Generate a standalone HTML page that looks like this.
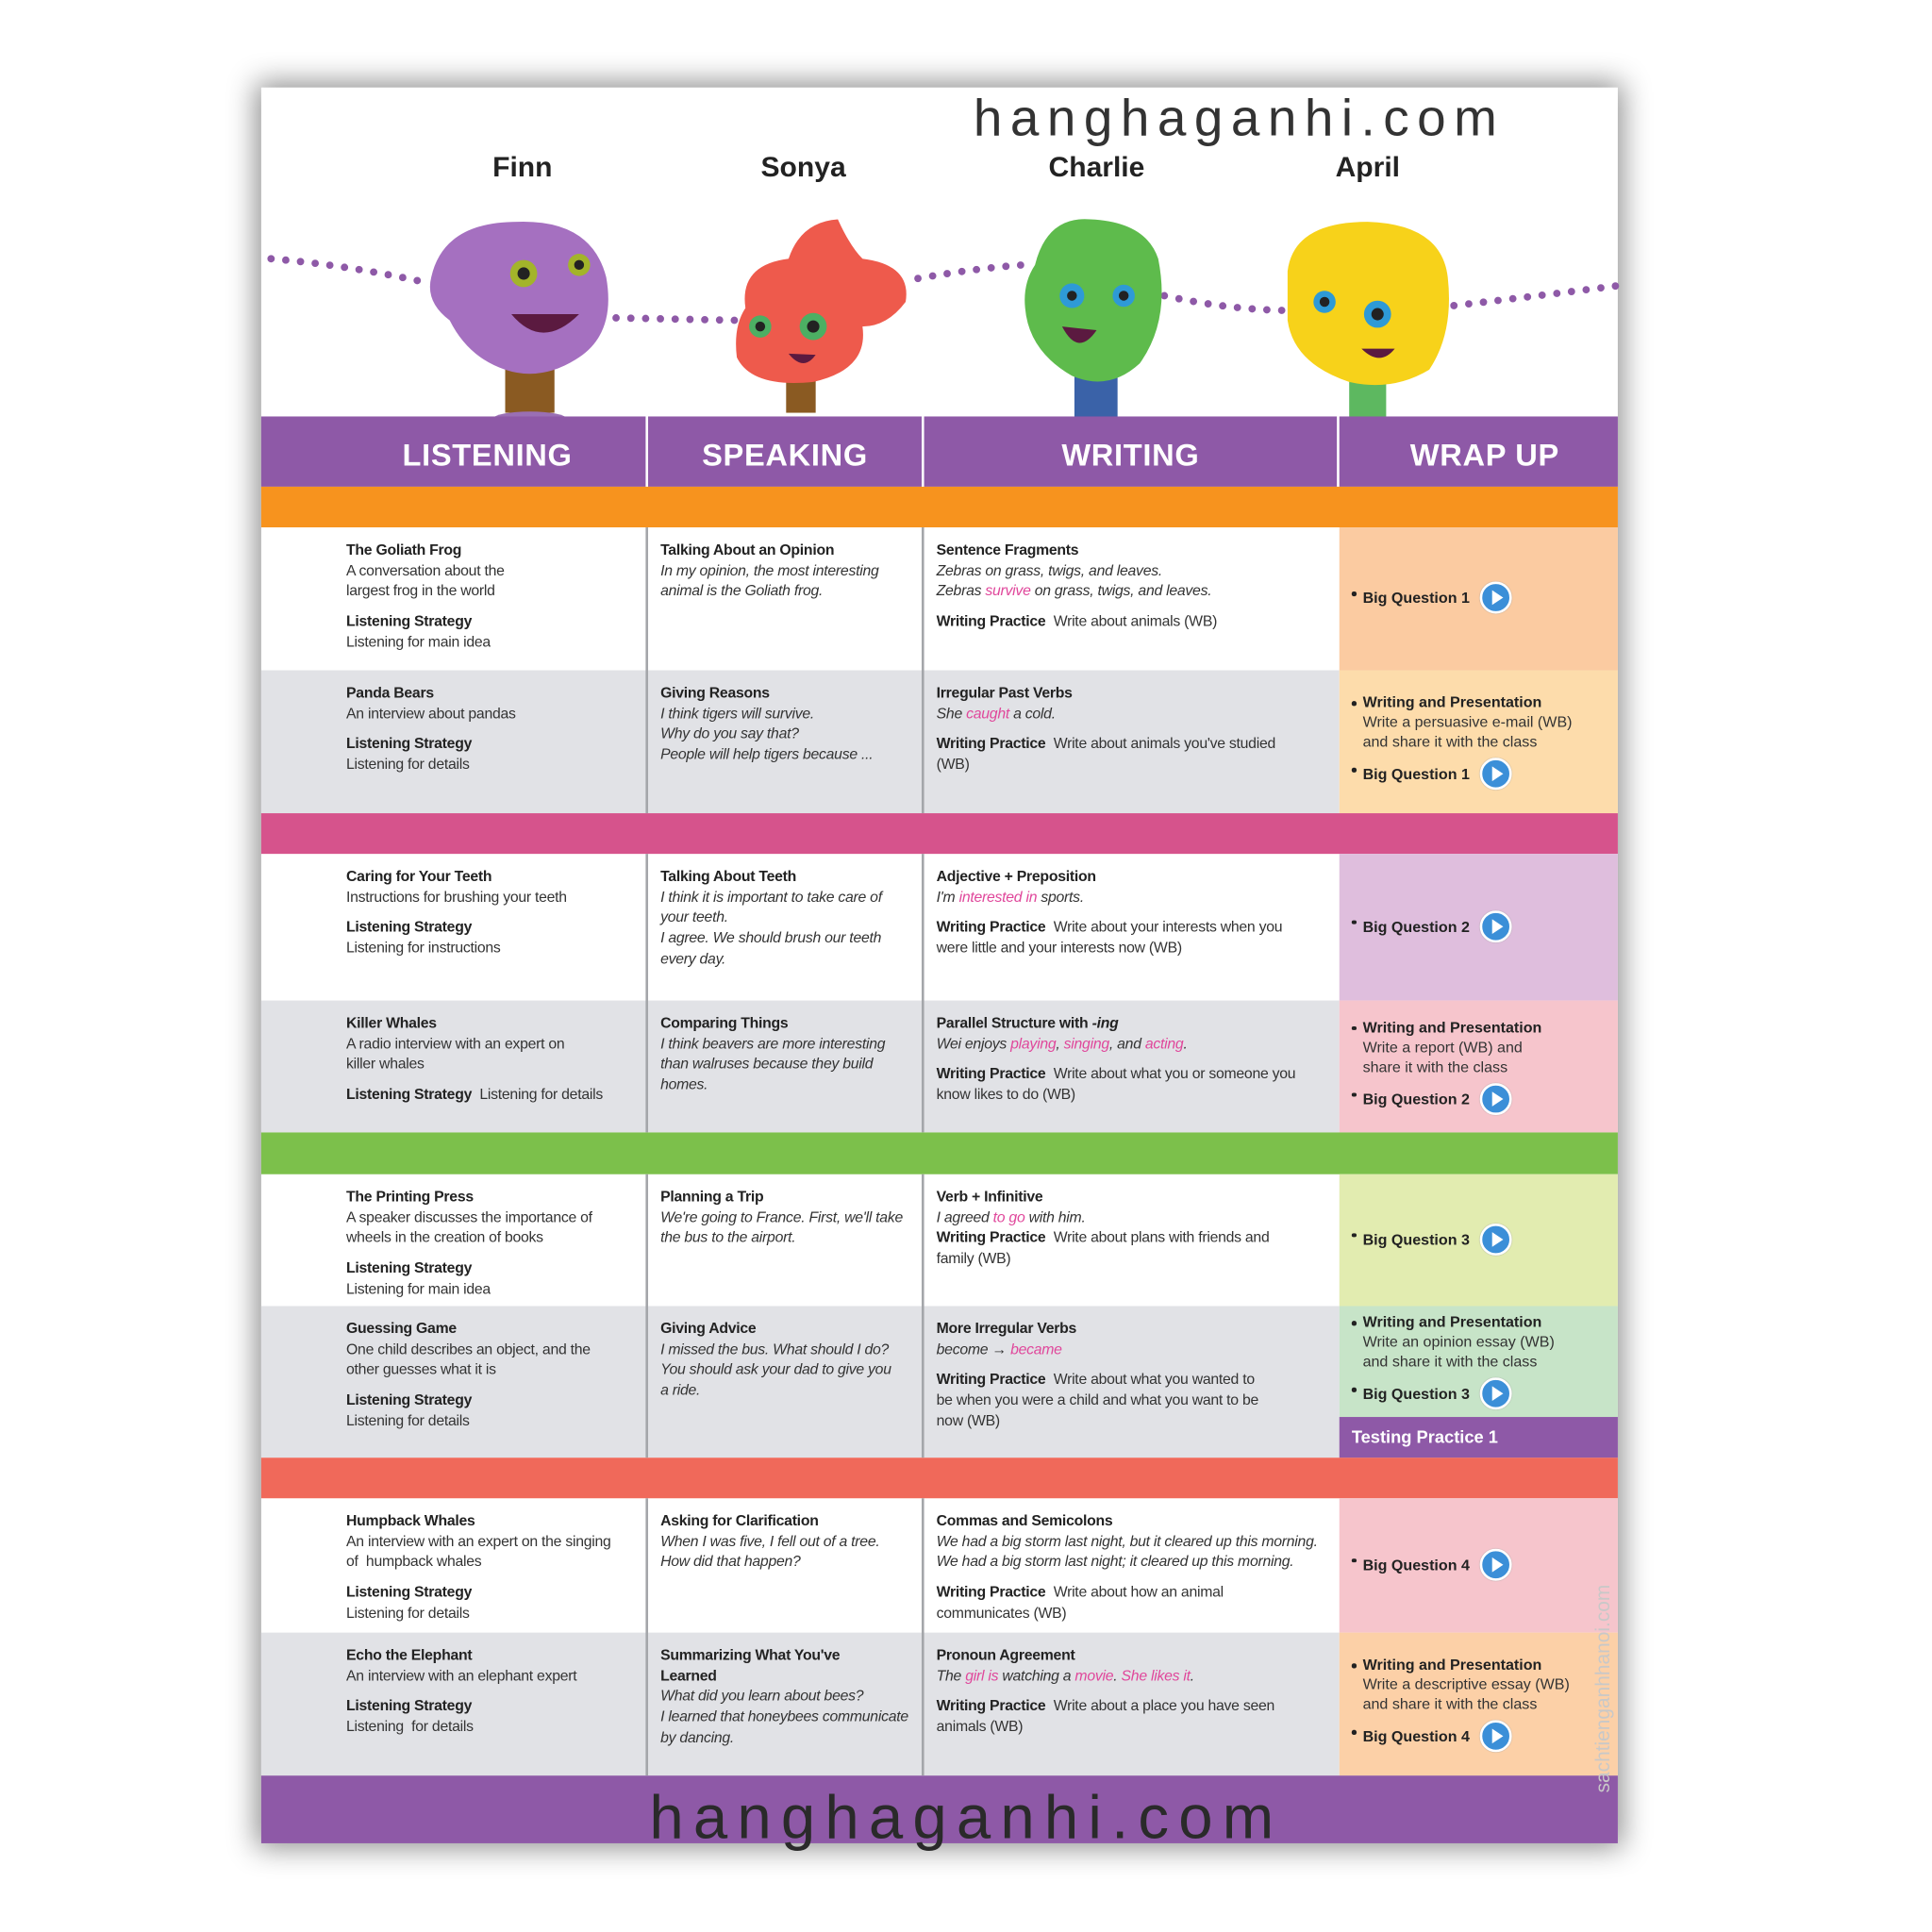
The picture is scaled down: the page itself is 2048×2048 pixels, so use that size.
<!DOCTYPE html>
<html><head><meta charset="utf-8">
<style>
html,body{margin:0;padding:0;background:#fff;}
body{width:2048px;height:2048px;overflow:hidden;position:relative;}
#s{position:absolute;left:0;top:0;width:1568px;height:1568px;transform:scale(1.30612);transform-origin:0 0;font-family:"Liberation Sans",sans-serif;}
.a{position:absolute;}
.card{left:212px;top:71px;width:1101px;height:1425px;background:#fff;box-shadow:0 0 22px 4px rgba(0,0,0,.45);}
.band{position:absolute;left:212px;width:1101px;height:34px;}
.hd{position:absolute;top:338px;height:57px;background:#8e59a7;color:#fff;font-weight:bold;font-size:25px;text-align:center;line-height:64px;letter-spacing:0.5px;}
.cell{position:absolute;box-sizing:border-box;padding-top:10px;font-size:12.1px;line-height:16.7px;color:#333;letter-spacing:-0.2px;}
.cell b{color:#222;}
.cell p{margin:0;}
.cell p+p{margin-top:8px;}
.i{font-style:italic;}
.pk{color:#e0479b;}
.w{position:absolute;left:1087px;width:226px;box-sizing:border-box;padding-left:10px;display:flex;flex-direction:column;justify-content:center;font-size:12.3px;line-height:16px;color:#333;}
.w b{color:#222;}
.bl{position:relative;padding-left:9px;}
.bl:before{content:"";position:absolute;left:0;top:7px;width:3.5px;height:3.5px;border-radius:50%;background:#222;}
.pl{display:inline-block;width:22px;height:22px;border-radius:50%;background:#3b8fd8;border:2px solid #fff;box-shadow:0 0 1px #999;vertical-align:middle;margin-left:8px;position:relative;top:-1px;}
.pl:after{content:"";position:absolute;left:8px;top:5px;border-left:9px solid #fff;border-top:6px solid transparent;border-bottom:6px solid transparent;}
.sep{position:absolute;width:2px;background:#a4a6aa;}
.nm{position:absolute;top:122px;font-weight:bold;font-size:23px;color:#222;transform:translateX(-50%);}
</style></head><body><div id="s">
<div class="a card"></div>

<div class="a" style="left:790px;top:72px;font-size:42px;letter-spacing:6.5px;color:#333;">hanghaganhi.com</div>
<div class="nm" style="left:424px;">Finn</div>
<div class="nm" style="left:652px;">Sonya</div>
<div class="nm" style="left:890px;">Charlie</div>
<div class="nm" style="left:1110px;">April</div>

<svg class="a" style="left:0;top:0" width="1546" height="400">
<g fill="none" stroke="#8e59a7" stroke-width="6" stroke-linecap="round" stroke-dasharray="0 12">
<path d="M220 210 Q280 215 340 228"/>
<path d="M500 258 L600 260"/>
<path d="M745 226 Q790 218 830 215"/>
<path d="M945 240 Q1000 252 1050 252"/>
<path d="M1180 248 Q1250 240 1312 232"/>
</g>
<rect x="410" y="290" width="40" height="45" fill="#8a5a22"/>
<ellipse cx="430" cy="340" rx="30" ry="6" fill="#9a6fb4"/>
<path d="M350 225 Q360 180 420 180 Q480 178 492 225 Q500 270 470 290 Q440 310 410 300 Q380 290 365 260 Q345 245 350 225Z" fill="#a570c0"/>
<circle cx="425" cy="222" r="11" fill="#a3b42a"/><circle cx="425" cy="222" r="5" fill="#222"/>
<circle cx="470" cy="215" r="9" fill="#a3b42a"/><circle cx="470" cy="215" r="4" fill="#222"/>
<path d="M415 255 Q440 285 470 255 Z" fill="#5b1a40"/>
<rect x="638" y="300" width="24" height="35" fill="#8a5a22"/>
<ellipse cx="650" cy="343" rx="22" ry="5" fill="#e25a4a"/>
<path d="M605 250 Q600 215 640 210 Q650 180 680 178 Q690 200 700 210 Q740 215 735 245 Q720 265 700 265 Q705 300 660 310 Q610 315 598 290 Q595 265 605 250Z" fill="#ee5a4c"/>
<circle cx="617" cy="265" r="9" fill="#4caf63"/><circle cx="617" cy="265" r="4" fill="#222"/>
<circle cx="660" cy="265" r="11" fill="#4caf63"/><circle cx="660" cy="265" r="5" fill="#222"/>
<path d="M640 287 Q652 302 662 288 Z" fill="#5b1a40"/>
<rect x="872" y="300" width="35" height="45" fill="#3a62a8"/>
<path d="M840 215 Q850 175 885 178 Q930 180 940 210 Q950 260 925 295 Q900 318 870 305 Q835 285 832 250 Q830 230 840 215Z" fill="#5ebb4c"/>
<circle cx="870" cy="240" r="10" fill="#2e9ad6"/><circle cx="870" cy="240" r="4" fill="#222"/>
<circle cx="912" cy="240" r="9" fill="#2e9ad6"/><circle cx="912" cy="240" r="4" fill="#222"/>
<path d="M862 265 Q875 290 890 268 Z" fill="#5b1a40"/>
<rect x="1095" y="305" width="30" height="35" fill="#5db860"/>
<path d="M1045 220 Q1050 180 1110 180 Q1170 182 1175 225 Q1180 270 1160 300 Q1130 318 1095 310 Q1050 295 1045 260Z" fill="#f7d21a"/>
<circle cx="1075" cy="245" r="9" fill="#2e9ad6"/><circle cx="1075" cy="245" r="4" fill="#222"/>
<circle cx="1118" cy="255" r="11" fill="#2e9ad6"/><circle cx="1118" cy="255" r="5" fill="#222"/>
<path d="M1105 283 Q1120 298 1132 283 Z" fill="#5b1a40"/>
</svg>

<div class="hd" style="left:212px;width:312px;padding-left:55px;box-sizing:border-box;">LISTENING</div>
<div class="hd" style="left:526px;width:222px;">SPEAKING</div>
<div class="hd" style="left:750px;width:335px;">WRITING</div>
<div class="hd" style="left:1087px;width:226px;padding-left:10px;box-sizing:border-box;">WRAP UP</div>

<div class="band" style="top:395px;height:33px;background:#f7931e;"></div>
<div class="band" style="top:660px;height:33px;background:#d6538c;"></div>
<div class="band" style="top:919px;height:34px;background:#7cc04b;"></div>
<div class="band" style="top:1183px;height:33px;background:#f0695a;"></div>
<div class="band" style="top:1441px;height:55px;background:#8e59a7;"></div>

<div class="a" style="left:212px;top:544px;width:875px;height:116px;background:#e1e2e6;"></div>
<div class="a" style="left:212px;top:812px;width:875px;height:107px;background:#e1e2e6;"></div>
<div class="a" style="left:212px;top:1060px;width:875px;height:123px;background:#e1e2e6;"></div>
<div class="a" style="left:212px;top:1325px;width:875px;height:116px;background:#e1e2e6;"></div>

<div class="sep" style="left:524px;top:428px;height:232px"></div>
<div class="sep" style="left:748px;top:428px;height:232px"></div>
<div class="sep" style="left:524px;top:693px;height:226px"></div>
<div class="sep" style="left:748px;top:693px;height:226px"></div>
<div class="sep" style="left:524px;top:953px;height:230px"></div>
<div class="sep" style="left:748px;top:953px;height:230px"></div>
<div class="sep" style="left:524px;top:1216px;height:225px"></div>
<div class="sep" style="left:748px;top:1216px;height:225px"></div>

<div class="cell" style="left:281px;top:428px;width:240px;"><p><b>The Goliath Frog</b><br>A conversation about the<br>largest frog in the world</p><p><b>Listening Strategy</b><br>Listening for main idea</p></div>
<div class="cell" style="left:536px;top:428px;width:210px;"><p><b>Talking About an Opinion</b><br><span class="i">In my opinion, the most interesting<br>animal is the Goliath frog.</span></p></div>
<div class="cell" style="left:760px;top:428px;width:325px;"><p><b>Sentence Fragments</b><br><span class="i">Zebras on grass, twigs, and leaves.<br>Zebras <span class="pk">survive</span> on grass, twigs, and leaves.</span></p><p><b>Writing Practice</b>&nbsp; Write about animals (WB)</p></div>
<div class="w" style="top:428px;height:116px;background:#fbcba1;"><div class="bl"><b>Big Question 1</b><span class="pl"></span></div></div>

<div class="cell" style="left:281px;top:544px;width:240px;"><p><b>Panda Bears</b><br>An interview about pandas</p><p><b>Listening Strategy</b><br>Listening for details</p></div>
<div class="cell" style="left:536px;top:544px;width:210px;"><p><b>Giving Reasons</b><br><span class="i">I think tigers will survive.<br>Why do you say that?<br>People will help tigers because ...</span></p></div>
<div class="cell" style="left:760px;top:544px;width:320px;"><p><b>Irregular Past Verbs</b><br><span class="i">She <span class="pk">caught</span> a cold.</span></p><p><b>Writing Practice</b>&nbsp; Write about animals you've studied<br>(WB)</p></div>
<div class="w" style="top:544px;height:116px;background:#fddcab;"><div class="bl"><b>Writing and Presentation</b><br>Write a persuasive e-mail (WB)<br>and share it with the class</div><div class="bl" style="margin-top:6px"><b>Big Question 1</b><span class="pl"></span></div></div>

<div class="cell" style="left:281px;top:693px;width:240px;"><p><b>Caring for Your Teeth</b><br>Instructions for brushing your teeth</p><p><b>Listening Strategy</b><br>Listening for instructions</p></div>
<div class="cell" style="left:536px;top:693px;width:210px;"><p><b>Talking About Teeth</b><br><span class="i">I think it is important to take care of<br>your teeth.<br>I agree. We should brush our teeth<br>every day.</span></p></div>
<div class="cell" style="left:760px;top:693px;width:320px;"><p><b>Adjective + Preposition</b><br><span class="i">I'm <span class="pk">interested in</span> sports.</span></p><p><b>Writing Practice</b>&nbsp; Write about your interests when you<br>were little and your interests now (WB)</p></div>
<div class="w" style="top:693px;height:119px;background:#dfbedd;"><div class="bl"><b>Big Question 2</b><span class="pl"></span></div></div>

<div class="cell" style="left:281px;top:812px;width:240px;"><p><b>Killer Whales</b><br>A radio interview with an expert on<br>killer whales</p><p><b>Listening Strategy</b>&nbsp; Listening for details</p></div>
<div class="cell" style="left:536px;top:812px;width:210px;"><p><b>Comparing Things</b><br><span class="i">I think beavers are more interesting<br>than walruses because they build<br>homes.</span></p></div>
<div class="cell" style="left:760px;top:812px;width:325px;"><p><b>Parallel Structure with <i>-ing</i></b><br><span class="i">Wei enjoys <span class="pk">playing</span>, <span class="pk">singing</span>, and <span class="pk">acting</span>.</span></p><p><b>Writing Practice</b>&nbsp; Write about what you or someone you<br>know likes to do (WB)</p></div>
<div class="w" style="top:812px;height:107px;background:#f6c5cc;"><div class="bl"><b>Writing and Presentation</b><br>Write a report (WB) and<br>share it with the class</div><div class="bl" style="margin-top:6px"><b>Big Question 2</b><span class="pl"></span></div></div>

<div class="cell" style="left:281px;top:953px;width:240px;"><p><b>The Printing Press</b><br>A speaker discusses the importance of<br>wheels in the creation of books</p><p><b>Listening Strategy</b><br>Listening for main idea</p></div>
<div class="cell" style="left:536px;top:953px;width:210px;"><p><b>Planning a Trip</b><br><span class="i">We're going to France. First, we'll take<br>the bus to the airport.</span></p></div>
<div class="cell" style="left:760px;top:953px;width:320px;"><p><b>Verb + Infinitive</b><br><span class="i">I agreed <span class="pk">to go</span> with him.</span><br><b>Writing Practice</b>&nbsp; Write about plans with friends and<br>family (WB)</p></div>
<div class="w" style="top:953px;height:107px;background:#e2ecb0;"><div class="bl"><b>Big Question 3</b><span class="pl"></span></div></div>

<div class="cell" style="left:281px;top:1060px;width:240px;"><p><b>Guessing Game</b><br>One child describes an object, and the<br>other guesses what it is</p><p><b>Listening Strategy</b><br>Listening for details</p></div>
<div class="cell" style="left:536px;top:1060px;width:210px;"><p><b>Giving Advice</b><br><span class="i">I missed the bus. What should I do?<br>You should ask your dad to give you<br>a ride.</span></p></div>
<div class="cell" style="left:760px;top:1060px;width:320px;"><p><b>More Irregular Verbs</b><br><span class="i">become → <span class="pk">became</span></span></p><p><b>Writing Practice</b>&nbsp; Write about what you wanted to<br>be when you were a child and what you want to be<br>now (WB)</p></div>
<div class="w" style="top:1060px;height:90px;background:#c7e4c8;"><div class="bl"><b>Writing and Presentation</b><br>Write an opinion essay (WB)<br>and share it with the class</div><div class="bl" style="margin-top:6px"><b>Big Question 3</b><span class="pl"></span></div></div>
<div class="a" style="left:1087px;top:1150px;width:226px;height:33px;background:#8e59a7;color:#fff;font-weight:bold;font-size:14px;line-height:33px;padding-left:10px;box-sizing:border-box;">Testing Practice 1</div>

<div class="cell" style="left:281px;top:1216px;width:242px;"><p><b>Humpback Whales</b><br>An interview with an expert on the singing<br>of &nbsp;humpback whales</p><p><b>Listening Strategy</b><br>Listening for details</p></div>
<div class="cell" style="left:536px;top:1216px;width:210px;"><p><b>Asking for Clarification</b><br><span class="i">When I was five, I fell out of a tree.<br>How did that happen?</span></p></div>
<div class="cell" style="left:760px;top:1216px;width:325px;"><p><b>Commas and Semicolons</b><br><span class="i">We had a big storm last night, but it cleared up this morning.<br>We had a big storm last night; it cleared up this morning.</span></p><p><b>Writing Practice</b>&nbsp; Write about how an animal<br>communicates (WB)</p></div>
<div class="w" style="top:1216px;height:109px;background:#f6c5cc;"><div class="bl"><b>Big Question 4</b><span class="pl"></span></div></div>

<div class="cell" style="left:281px;top:1325px;width:240px;"><p><b>Echo the Elephant</b><br>An interview with an elephant expert</p><p><b>Listening Strategy</b><br>Listening &nbsp;for details</p></div>
<div class="cell" style="left:536px;top:1325px;width:212px;"><p><b>Summarizing What You've<br>Learned</b><br><span class="i">What did you learn about bees?<br>I learned that honeybees communicate<br>by dancing.</span></p></div>
<div class="cell" style="left:760px;top:1325px;width:320px;"><p><b>Pronoun Agreement</b><br><span class="i">The <span class="pk">girl is</span> watching a <span class="pk">movie</span>. <span class="pk">She likes it</span>.</span></p><p><b>Writing Practice</b>&nbsp; Write about a place you have seen<br>animals (WB)</p></div>
<div class="w" style="top:1325px;height:116px;background:#fcd0a7;"><div class="bl"><b>Writing and Presentation</b><br>Write a descriptive essay (WB)<br>and share it with the class</div><div class="bl" style="margin-top:6px"><b>Big Question 4</b><span class="pl"></span></div></div>

<div class="a" style="left:1293px;top:1455px;transform:rotate(-90deg);transform-origin:0 0;font-size:16px;color:#c8c8c8;white-space:nowrap;">sachtienganhhanoi.com</div>

<div class="a" style="left:527px;top:1445px;font-size:50px;letter-spacing:7.8px;color:#2a2a2a;line-height:60px;">hanghaganhi.com</div>
</div></body></html>
